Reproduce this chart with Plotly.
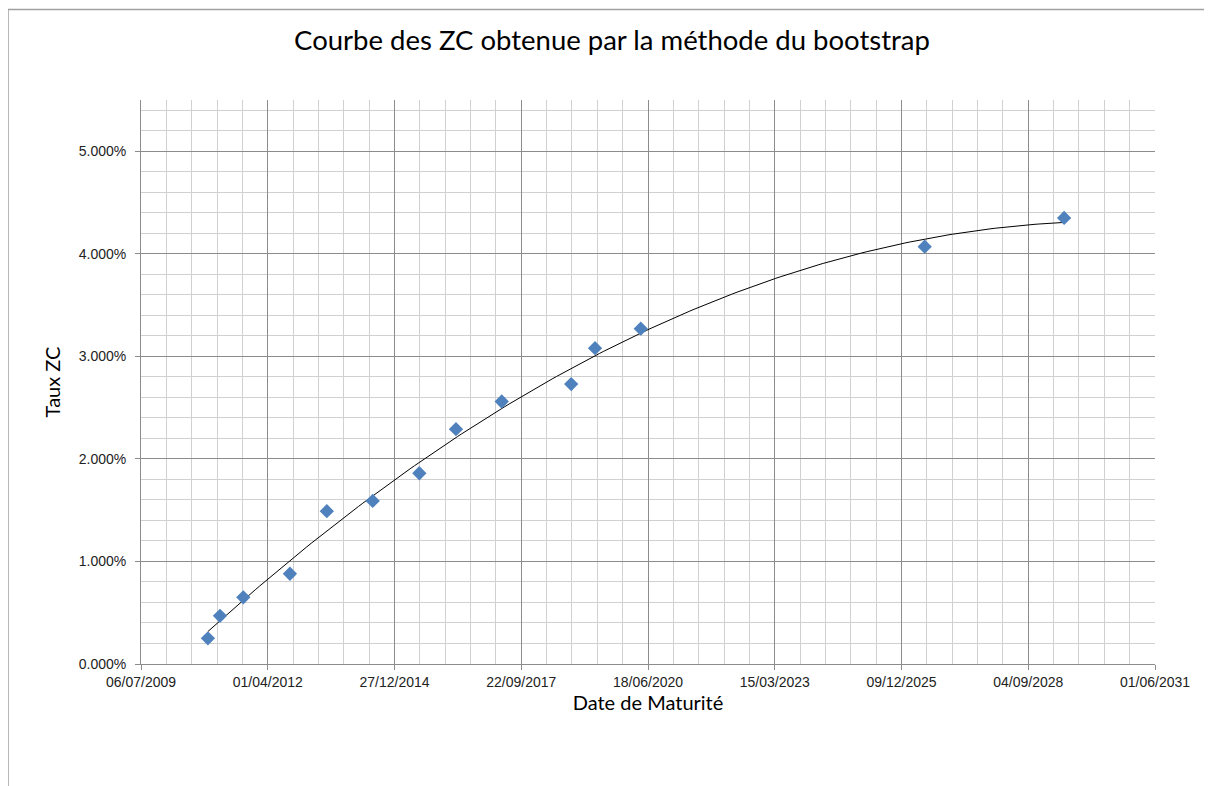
import numpy as np
import pandas as pd
import plotly.graph_objects as go

# maturity dates and zero-coupon rates
maturites = ["2010-12-16", "2011-03-21", "2011-09-21", "2012-09-23", "2013-07-11",
             "2014-07-08", "2015-07-11", "2016-04-25", "2017-04-21", "2018-10-21",
             "2019-04-27", "2020-04-22", "2026-06-10", "2029-06-14"]
taux_zc = [0.0025, 0.0047, 0.0065, 0.0088, 0.0149, 0.0159, 0.0186, 0.0229,
           0.0256, 0.0273, 0.0308, 0.0327, 0.0407, 0.0435]

dates = pd.to_datetime(maturites)

# polynomial trend line (order 2), like the Excel trendline
t = (dates - dates[0]).days.values.astype(float)
coef = np.polyfit(t, taux_zc, 2)
t_fit = np.linspace(t.min(), t.max(), 200)
x_fit = dates[0] + pd.to_timedelta(t_fit, unit="D")
y_fit = np.polyval(coef, t_fit)

fig = go.Figure()
fig.add_trace(go.Scatter(x=x_fit, y=y_fit, mode="lines",
                         line=dict(color="black", width=1), hoverinfo="skip"))
fig.add_trace(go.Scatter(x=dates, y=taux_zc, mode="markers",
                         marker=dict(symbol="diamond", size=11, color="#4F81BD")))

# page has an 8px body margin, so figure is sized/shifted to compensate
W, H = 1204, 778
L, R, T, B = 133, 57, 92, 122
pw, ph = W - L - R, H - T - B

day_ms = 86400000
fig.update_xaxes(
    type="date", range=["2009-07-06", "2031-06-01"],
    tick0="2009-07-06", dtick=1000 * day_ms, tickformat="%d/%m/%Y",
    showgrid=True, gridcolor="#8c8c8c", gridwidth=1,
    ticks="outside", ticklen=5, tickcolor="#8c8c8c",
    showline=True, linecolor="#8c8c8c",
    minor=dict(dtick=200 * day_ms, tick0="2009-07-06", showgrid=True, gridcolor="#d0d0d0"),
    tickfont=dict(family="Liberation Sans", size=14, color="#222"),
    title=dict(text="Date de Maturité", font=dict(family="Lato", size=20, color="black"), standoff=7),
    zeroline=False,
)
fig.update_yaxes(
    range=[0, 0.055], dtick=0.01, tickformat=".3%",
    showgrid=True, gridcolor="#8c8c8c", gridwidth=1,
    ticks="outside", ticklen=5, tickcolor="#8c8c8c",
    showline=True, linecolor="#8c8c8c",
    minor=dict(dtick=0.002, showgrid=True, gridcolor="#d0d0d0"),
    tickfont=dict(family="Liberation Sans", size=14, color="#222"),
    ticklabelstandoff=6,
    title=dict(text="Taux ZC", font=dict(family="Lato", size=20, color="black"), standoff=12),
    zeroline=False,
)

# outer chart frame (top and left edges visible)
fx0 = (0 - L) / pw
fy0 = (H - B - 1.5) / ph
fig.add_shape(type="line", xref="paper", yref="paper",
              x0=fx0, x1=(W - L) / pw, y0=fy0, y1=fy0,
              line=dict(color="#a0a0a0", width=1.5))
fig.add_shape(type="line", xref="paper", yref="paper",
              x0=fx0, x1=fx0, y0=fy0, y1=-B / ph,
              line=dict(color="#a0a0a0", width=1.5))

fig.update_layout(
    width=W, height=H,
    margin=dict(l=L, r=R, t=T, b=B),
    paper_bgcolor="white", plot_bgcolor="white",
    showlegend=False,
    title=dict(text="Courbe des ZC obtenue par la méthode du bootstrap",
               x=604 / W, xanchor="center", y=1 - 32 / H, yanchor="middle",
               font=dict(family="Lato", size=27.5, color="black")),
)

fig.write_html("out.html")
